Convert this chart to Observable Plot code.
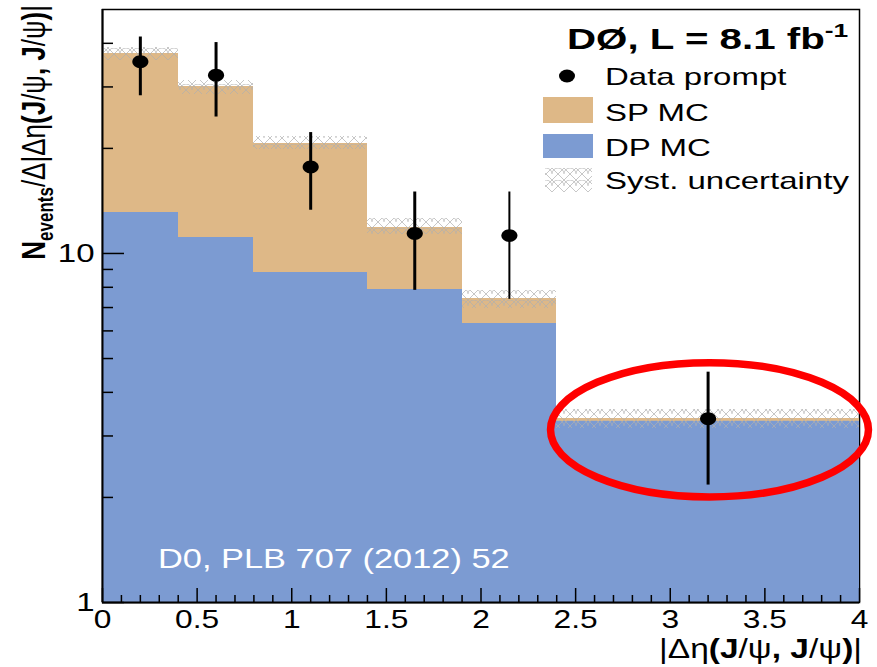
<!DOCTYPE html>
<html><head><meta charset="utf-8">
<script src="https://cdn.jsdelivr.net/npm/d3@7"></script>
<script src="https://cdn.jsdelivr.net/npm/@observablehq/plot@0.6"></script>
<style>
html,body{margin:0;padding:0;background:#fff}
svg{font-family:"Liberation Sans",Arial,Helvetica,sans-serif}
</style>
</head><body><div id="chart"></div>
<script>
// ---- data ----
const binLo   = [0, 0.4, 0.8, 1.4, 1.9, 2.4];
const binHi   = [0.4, 0.8, 1.4, 1.9, 2.4, 4.0];
const dpMC    = [13.1, 11.1, 8.83, 7.89, 6.31, 3.29];   // DP MC (bottom of stack)
const totalMC = [37.5, 30.0, 20.6, 11.9, 7.44, 3.36];   // SP MC + DP MC
const systLo  = [35.8, 28.5, 19.8, 11.3, 6.96, 3.16];
const systHi  = [39.0, 31.4, 21.6, 12.6, 7.84, 3.58];
const dataX   = [0.2, 0.6, 1.1, 1.65, 2.15, 3.2];
const dataY   = [35.4, 32.4, 17.7, 11.4, 11.25, 3.36];
const dataLo  = [28.3, 24.6, 13.3, 7.84, 7.39, 2.17];
const dataHi  = [41.7, 40.2, 22.2, 15.0, 15.0, 4.57];
const xMajor  = [0, 0.5, 1, 1.5, 2, 2.5, 3, 3.5, 4];
const xMinor  = [0.1,0.2,0.3,0.4,0.6,0.7,0.8,0.9,1.1,1.2,1.3,1.4,1.6,1.7,1.8,1.9,2.1,2.2,2.3,2.4,2.6,2.7,2.8,2.9,3.1,3.2,3.3,3.4,3.6,3.7,3.8,3.9];
const yMajor  = [1, 10];
const yMinor  = [2,3,4,5,6,7,8,9,20,30,40];
const ellipseX = [2.37, 4.05];   // highlighted region (annotation)
const ellipseY = [2.0, 4.85];
const legendLabels = ["Data prompt", "SP MC", "DP MC", "Syst. uncertainty"];

const SP_COLOR = "#deb887", DP_COLOR = "#7c9bd2";

const bins = binLo.map((lo, i) => ({lo, hi: binHi[i], dp: dpMC[i], tot: totalMC[i], sLo: systLo[i], sHi: systHi[i]}));
const pts = dataX.map((x, i) => ({x, y: dataY[i], lo: dataLo[i], hi: dataHi[i], w: i === 4 ? 2 : 3}));

// slightly wide marker, like the reference
const wideDot = {
  draw(ctx, size) {
    const r = Math.sqrt(size / Math.PI), rx = r * 1.12, ry = r * 0.9, k = 0.5523;
    ctx.moveTo(rx, 0);
    ctx.bezierCurveTo(rx, ry * k, rx * k, ry, 0, ry);
    ctx.bezierCurveTo(-rx * k, ry, -rx, ry * k, -rx, 0);
    ctx.bezierCurveTo(-rx, -ry * k, -rx * k, -ry, 0, -ry);
    ctx.bezierCurveTo(rx * k, -ry, rx, -ry * k, rx, 0);
    ctx.closePath();
  }
};

const plot = Plot.plot({
  width: 877, height: 667,
  marginLeft: 102, marginRight: 18, marginTop: 9, marginBottom: 65,
  x: {domain: [0, 4], label: null},
  y: {type: "log", domain: [1, 50], label: null},
  style: {fontFamily: '"Liberation Sans",Arial,sans-serif', color: "black", background: "white"},
  marks: [
    Plot.frame({stroke: "black", strokeWidth: 1.5}),
    Plot.rect(bins, {x1: "lo", x2: "hi", y1: 1, y2: "dp", fill: DP_COLOR, shapeRendering: "crispEdges"}),
    Plot.rect(bins, {x1: "lo", x2: "hi", y1: "dp", y2: "tot", fill: SP_COLOR, shapeRendering: "crispEdges"}),
    Plot.rect(bins, {x1: "lo", x2: "hi", y1: "sLo", y2: "sHi", fill: "url(#systHatch)", shapeRendering: "crispEdges"}),
    Plot.ruleX(pts, {x: "x", y1: "lo", y2: "hi", stroke: "black", strokeWidth: "w"}),
    Plot.dot(pts, {x: "x", y: "y", r: 7.2, fill: "black", stroke: null, symbol: wideDot}),
    Plot.ruleX([0], {stroke: "black", strokeWidth: 2}),
    Plot.ruleY([1], {stroke: "black", strokeWidth: 2}),
    Plot.axisX({ticks: xMajor, tickSize: -14, tickFormat: () => "", strokeWidth: 1.5, label: null}),
    Plot.axisX({ticks: xMinor, tickSize: -7, tickFormat: () => "", strokeWidth: 1.5, label: null}),
    Plot.axisX({ticks: xMajor, tickSize: 0, tickPadding: 8, fontSize: 25, tickFormat: d => String(d), label: null}),
    Plot.axisY({ticks: yMajor, tickSize: -22, tickFormat: () => "", strokeWidth: 1.5, label: null}),
    Plot.axisY({ticks: yMinor, tickSize: -11, tickFormat: () => "", strokeWidth: 1.5, label: null}),
    Plot.axisY({ticks: yMajor, tickSize: 0, tickPadding: 8, fontSize: 26, tickFormat: d => String(d), label: null})
  ]
});
document.getElementById("chart").appendChild(plot);

const svg = d3.select(plot);
const sx = plot.scale("x"), sy = plot.scale("y");

// hatch pattern for systematic uncertainty
const defs = svg.insert("defs", ":first-child");
const pat = defs.append("pattern").attr("id", "systHatch").attr("patternUnits", "userSpaceOnUse")
  .attr("width", 12).attr("height", 12);
pat.append("path").attr("d", "M0,0L12,12M12,0L0,12M0,6A6,6 0 0 1 12,6")
  .attr("stroke", "#b0b0b0").attr("stroke-width", 1).attr("fill", "none").attr("opacity", 0.7);

// stretch axis tick labels horizontally (reference uses wide glyphs)
svg.selectAll('g[aria-label="x-axis tick label"] text, g[aria-label="y-axis tick label"] text').each(function() {
  const t = this.getAttribute("transform") || "";
  this.setAttribute("transform", t + " scale(1.27,1)");
});

function addText(g, o) {
  const t = g.append("text")
    .attr("transform", `translate(${o.x},${o.y})`)
    .attr("font-size", o.size)
    .attr("font-weight", o.weight || null)
    .attr("text-anchor", o.anchor || "start")
    .attr("fill", o.fill || "black");
  if (o.parts) {
    o.parts.forEach(p => {
      const s = t.append("tspan").text(p.t);
      if (p.b) s.attr("font-weight", "bold");
      if (p.size) s.attr("font-size", p.size);
      if (p.dy) s.attr("dy", p.dy);
    });
  } else t.text(o.text);
  if (o.width) {
    const w = t.node().getBBox().width;
    t.attr("transform", `translate(${o.x},${o.y}) scale(${o.width / w},1)`);
  }
  return t;
}

const g = svg.append("g");

// annotation ellipse
const ex1 = sx.apply(ellipseX[0]), ex2 = sx.apply(ellipseX[1]);
const ey1 = sy.apply(ellipseY[1]), ey2 = sy.apply(ellipseY[0]);
g.append("ellipse").attr("cx", (ex1 + ex2) / 2).attr("cy", (ey1 + ey2) / 2)
  .attr("rx", (ex2 - ex1) / 2).attr("ry", (ey2 - ey1) / 2)
  .attr("fill", "none").attr("stroke", "#ff0000").attr("stroke-width", 7.5);

// legend
addText(g, {x: 567, y: 49, size: 29, weight: "bold", width: 282,
  parts: [{t: "DØ, L = 8.1 fb"}, {t: "-1", size: 19, dy: -12}]});
g.append("ellipse").attr("cx", 567).attr("cy", 76).attr("rx", 8).attr("ry", 6.5).attr("fill", "black");
g.append("rect").attr("x", 543).attr("y", 97).attr("width", 50).attr("height", 26).attr("fill", SP_COLOR);
g.append("rect").attr("x", 543).attr("y", 134).attr("width", 50).attr("height", 24).attr("fill", DP_COLOR);
g.append("rect").attr("x", 545).attr("y", 168).attr("width", 47).attr("height", 24).attr("fill", "url(#systHatch)");
addText(g, {x: 605, y: 85, size: 24, text: legendLabels[0], width: 182});
addText(g, {x: 605, y: 121, size: 24, text: legendLabels[1], width: 104});
addText(g, {x: 605, y: 156, size: 24, text: legendLabels[2], width: 106});
addText(g, {x: 605, y: 189, size: 24, text: legendLabels[3], width: 244});

// reference caption inside the plot
addText(g, {x: 158, y: 568, size: 27, fill: "white", text: "D0, PLB 707 (2012) 52", width: 352});

// x-axis title
addText(g, {x: 862, y: 658, size: 27, anchor: "end", width: 203,
  parts: [{t: "|Δη"}, {t: "(J", b: 1}, {t: "/ψ"}, {t: ", J", b: 1}, {t: "/ψ"}, {t: ")", b: 1}, {t: "|"}]});

// y-axis title (rotated)
const yl = g.append("text").attr("transform", "translate(45,5) rotate(-90) scale(1,1.3)")
  .attr("font-size", 26).attr("text-anchor", "end");
yl.append("tspan").attr("font-weight", "bold").text("N");
yl.append("tspan").attr("font-weight", "bold").attr("font-size", 17).attr("dy", 6).text("events");
yl.append("tspan").attr("dy", -6).text("/Δ|Δη");
yl.append("tspan").attr("font-weight", "bold").text("(J");
yl.append("tspan").text("/ψ");
yl.append("tspan").attr("font-weight", "bold").text(", J");
yl.append("tspan").text("/ψ");
yl.append("tspan").attr("font-weight", "bold").text(")");
yl.append("tspan").text("|");
</script>
</body></html>
